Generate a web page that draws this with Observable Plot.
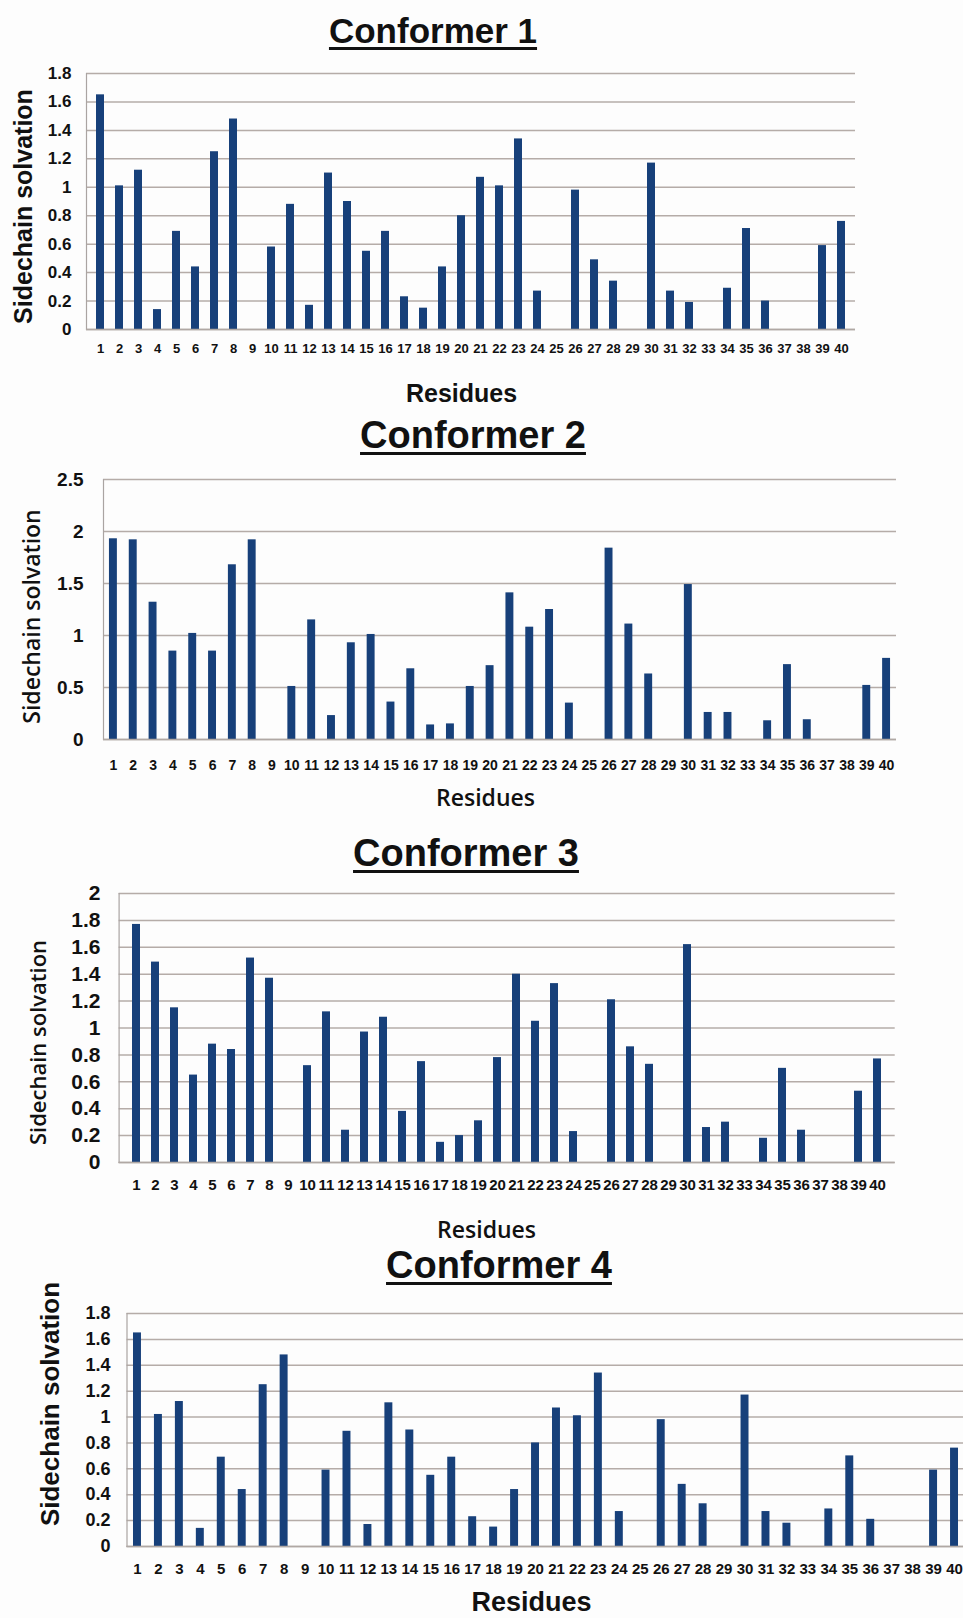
<!DOCTYPE html>
<html>
<head>
<meta charset="utf-8">
<script src="https://cdn.jsdelivr.net/npm/d3@7"></script>
<script src="https://cdn.jsdelivr.net/npm/@observablehq/plot@0.6"></script>
<style>
  html, body { margin: 0; padding: 0; background: #fdfdfd; }
  body { width: 963px; height: 1618px; position: relative; overflow: hidden; }
  .panel { position: absolute; left: 0; }
  .title {
    position: absolute; width: 400px; text-align: center; line-height: 1;
    font-family: "Liberation Sans", Arial, sans-serif; font-weight: bold; color: #111;
    text-decoration: underline; text-decoration-thickness: 3px; text-underline-offset: 4px;
    white-space: nowrap;
  }
</style>
</head>
<body>
<script>
const residues = [1,2,3,4,5,6,7,8,9,10,11,12,13,14,15,16,17,18,19,20,21,22,23,24,25,26,27,28,29,30,31,32,33,34,35,36,37,38,39,40];

const conformer1 = [1.65,1.01,1.12,0.14,0.69,0.44,1.25,1.48,0,0.58,0.88,0.17,1.10,0.90,0.55,0.69,0.23,0.15,0.44,0.80,1.07,1.01,1.34,0.27,0,0.98,0.49,0.34,0,1.17,0.27,0.19,0,0.29,0.71,0.20,0,0,0.59,0.76];
const conformer2 = [1.93,1.92,1.32,0.85,1.02,0.85,1.68,1.92,0,0.51,1.15,0.23,0.93,1.01,0.36,0.68,0.14,0.15,0.51,0.71,1.41,1.08,1.25,0.35,0,1.84,1.11,0.63,0,1.49,0.26,0.26,0,0.18,0.72,0.19,0,0,0.52,0.78];
const conformer3 = [1.77,1.49,1.15,0.65,0.88,0.84,1.52,1.37,0,0.72,1.12,0.24,0.97,1.08,0.38,0.75,0.15,0.20,0.31,0.78,1.40,1.05,1.33,0.23,0,1.21,0.86,0.73,0,1.62,0.26,0.30,0,0.18,0.70,0.24,0,0,0.53,0.77];
const conformer4 = [1.65,1.02,1.12,0.14,0.69,0.44,1.25,1.48,0,0.59,0.89,0.17,1.11,0.90,0.55,0.69,0.23,0.15,0.44,0.80,1.07,1.01,1.34,0.27,0,0.98,0.48,0.33,0,1.17,0.27,0.18,0,0.29,0.70,0.21,0,0,0.59,0.76];

const yTicks1 = [0,0.2,0.4,0.6,0.8,1,1.2,1.4,1.6,1.8];
const yTicks2 = [0,0.5,1,1.5,2,2.5];
const yTicks3 = [0,0.2,0.4,0.6,0.8,1,1.2,1.4,1.6,1.8,2];
const yTicks4 = [0,0.2,0.4,0.6,0.8,1,1.2,1.4,1.6,1.8];

const titles = ["Conformer 1","Conformer 2","Conformer 3","Conformer 4"];
const yLabel = "Sidechain solvation";
const xLabel = "Residues";

const ARIAL = "'Liberation Sans', Arial, sans-serif";
const OPEN = "'Open Sans', 'Noto Sans', sans-serif";

const panels = [
  { values: conformer1, ticks: yTicks1, top: 0, width: 963, height: 420, mt: 73, mb: 91, ml: 86, mr: 108,
    yTickSize: 17, yPad: 15, xTickSize: 13, xPad: 14, yLabFont: ARIAL, yLabWeight: "bold", yLabSize: 25,
    yLabDx: -63, yLabDy: 5, xLabFont: ARIAL, xLabWeight: "bold", xLabSize: 25, xLabDx: -9.5, xLabDy: 64,
    title: { size: 35, cx: 433, base: 43 }, pad: 0.58 },
  { values: conformer2, ticks: yTicks2, top: 420, width: 963, height: 410, mt: 59, mb: 91, ml: 103, mr: 67,
    yTickSize: 19, yPad: 20, xTickSize: 14, xPad: 21, yLabFont: OPEN, yLabWeight: 600, yLabSize: 23,
    yLabDx: -71, yLabDy: 7, xLabFont: OPEN, xLabWeight: 600, xLabSize: 23, xLabDx: -14.5, xLabDy: 59,
    title: { size: 38, cx: 473, base: 448 }, pad: 0.6 },
  { values: conformer3, ticks: yTicks3, top: 830, width: 963, height: 420, mt: 63, mb: 88, ml: 118.6, mr: 68.3,
    yTickSize: 21, yPad: 18.6, xTickSize: 15, xPad: 16.6, yLabFont: OPEN, yLabWeight: 600, yLabSize: 22,
    yLabDx: -80.6, yLabDy: 14.5, xLabFont: OPEN, xLabWeight: 600, xLabSize: 23, xLabDx: -20.6, xLabDy: 68,
    title: { size: 38, cx: 466, base: 866 }, pad: 0.6 },
  { values: conformer4, ticks: yTicks4, top: 1250, width: 990, height: 368, mt: 63, mb: 72, ml: 126.5, mr: 25.5,
    yTickSize: 18, yPad: 16.5, xTickSize: 15, xPad: 16.5, yLabFont: ARIAL, yLabWeight: "bold", yLabSize: 26,
    yLabDx: -76.5, yLabDy: -26, xLabFont: ARIAL, xLabWeight: "bold", xLabSize: 27, xLabDx: -14.5, xLabDy: 56,
    title: { size: 38, cx: 499, base: 1278 }, pad: 0.62 }
];

const barColor = "#17407a";
const gridColor = "#b5aca8";

panels.forEach((p, i) => {
  const data = residues.map((r, k) => ({ residue: r, value: p.values[k] }));
  const chart = Plot.plot({
    width: p.width,
    height: p.height,
    marginTop: p.mt,
    marginBottom: p.mb,
    marginLeft: p.ml,
    marginRight: p.mr,
    style: { background: "transparent", maxWidth: "none", fontFamily: ARIAL, fontWeight: "bold", color: "#111", overflow: "visible" },
    x: { type: "band", domain: residues, paddingInner: p.pad, paddingOuter: p.pad / 2, align: 0.5 },
    y: { domain: [p.ticks[0], p.ticks[p.ticks.length - 1]] },
    marks: [
      Plot.gridY(p.ticks, { stroke: gridColor, strokeOpacity: 1, strokeWidth: 1.5 }),
      Plot.frame({ anchor: "left", stroke: "#aaa4a2", strokeWidth: 1.2 }),
      Plot.barY(data, { x: "residue", y: "value", fill: barColor }),
      Plot.ruleY([0], { stroke: "#b0a8a4", strokeWidth: 1.5 }),
      Plot.axisY({ ticks: p.ticks, tickFormat: d => String(d), tickSize: 0, tickPadding: p.yPad,
                   fontSize: p.yTickSize, label: null, fill: "#111" }),
      Plot.axisX({ tickSize: 0, tickPadding: p.xPad, fontSize: p.xTickSize, label: null, fill: "#111" }),
      Plot.text([yLabel], { frameAnchor: "left", textAnchor: "middle", lineAnchor: "middle", rotate: -90,
                   dx: p.yLabDx, dy: p.yLabDy,
                   fontSize: p.yLabSize, fontFamily: p.yLabFont, fontWeight: p.yLabWeight, fill: "#111" }),
      Plot.text([xLabel], { frameAnchor: "bottom", textAnchor: "middle", lineAnchor: "middle",
                   dx: p.xLabDx, dy: p.xLabDy,
                   fontSize: p.xLabSize, fontFamily: p.xLabFont, fontWeight: p.xLabWeight, fill: "#111" })
    ]
  });
  const wrap = document.createElement("div");
  wrap.className = "panel";
  wrap.style.top = p.top + "px";
  wrap.appendChild(chart);
  document.body.appendChild(wrap);

  const t = document.createElement("div");
  t.className = "title";
  t.textContent = titles[i];
  t.style.fontSize = p.title.size + "px";
  t.style.left = (p.title.cx - 200) + "px";
  t.style.top = (p.title.base - 0.8465 * p.title.size) + "px";
  document.body.appendChild(t);
});
</script>
</body>
</html>
